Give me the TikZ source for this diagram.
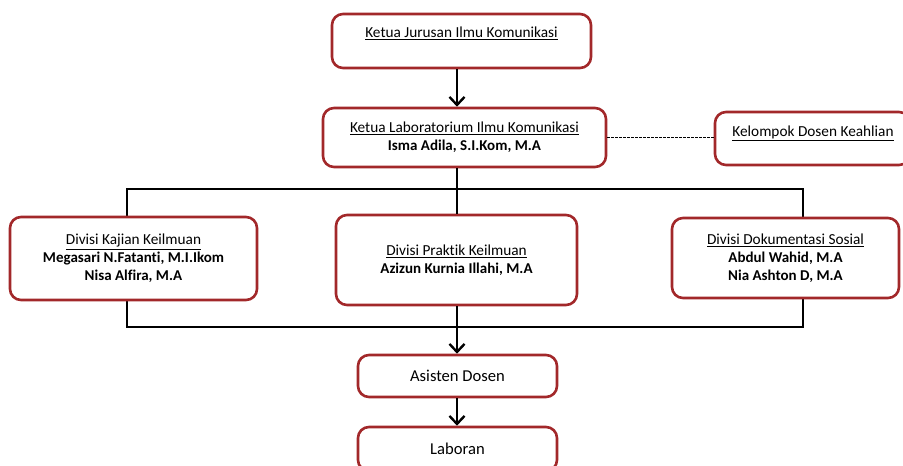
\documentclass[tikz,border=0pt]{standalone}
\usepackage{fontspec}
\setmainfont{Carlito}[Ligatures={NoCommon}]
\usetikzlibrary{arrows.meta}
\definecolor{boxred}{RGB}{162,40,42}
\newcommand{\hd}[1]{{\fontsize{15.3}{18}\selectfont\underline{#1}}}
\newcommand{\nm}[1]{{\fontsize{15}{18}\selectfont\bfseries #1}}
\begin{document}
\begin{tikzpicture}[x=1pt,y=-1pt,
  box/.style={draw=boxred, line width=2.6pt, rounded corners=11pt, fill=white,
    inner sep=0pt, align=center, font=\fontsize{15}{18}\selectfont},
  txt/.style={inner sep=0pt, align=center, font=\fontsize{15}{18}\selectfont},
  big/.style={font=\fontsize{16.6}{20}\selectfont},
  conn/.style={line width=2pt, black},
  arr/.style={line width=2.4pt, black, -{Straight Barb[length=8pt,width=15pt,line width=2.4pt]}},
  dash line/.style={line width=0.9pt, black, dash pattern=on 2.5pt off 1.5pt}]
\useasboundingbox (0,0) rectangle (903,466);
% frame behind the division boxes
\coordinate (fl) at (127,189);
\coordinate (fr) at (803,327);
\coordinate (cx) at (457,0);
\draw[conn] (fl) rectangle (fr);
% boxes
\node[box, minimum width=259pt, minimum height=54pt] (jur) at (461.5,41) {};
\node[txt] (jurt) at (461.5,33) {\hd{Ketua Jurusan Ilmu Komunikasi}};
\node[box, minimum width=283pt, minimum height=59pt] (lab) at (464.5,137.5)
  {\hd{Ketua Laboratorium Ilmu Komunikasi}\\\nm{Isma Adila, S.I.Kom, M.A}};
\node[box, minimum width=195pt, minimum height=53pt] (kel) at (812.5,138.5) {};
\node[txt] (kelt) at (813,133) {\hd{Kelompok Dosen Keahlian}};
\node[box, minimum width=247pt, minimum height=83pt] (kaj) at (133.5,258.5)
  {\hd{Divisi Kajian Keilmuan}\\\nm{Megasari N.Fatanti, M.I.Ikom}\\\nm{Nisa Alfira, M.A}};
\node[box, minimum width=241pt, minimum height=90pt] (pra) at (456.5,260)
  {\hd{Divisi Praktik Keilmuan}\\\nm{Azizun Kurnia Illahi, M.A}};
\node[box, minimum width=227pt, minimum height=80pt] (dok) at (785.5,258)
  {\hd{Divisi Dokumentasi Sosial}\\\nm{Abdul Wahid, M.A}\\\nm{Nia Ashton D, M.A}};
\node[box, big, minimum width=199pt, minimum height=42pt] (asi) at (457.5,376) {Asisten Dosen};
\node[box, big, minimum width=199pt, minimum height=44pt] (lar) at (457.5,449) {Laboran};
% connectors
\draw[arr] (jur.south -| cx) -- (lab.north -| cx);
\draw[dash line] (lab.east) -- (lab.east -| kel.west);
\draw[conn] (lab.south -| cx) -- (pra.north -| cx);
\draw[arr] (pra.south -| cx) -- (asi.north -| cx);
\draw[arr] (asi.south -| cx) -- (lar.north -| cx);
\end{tikzpicture}
\end{document}
